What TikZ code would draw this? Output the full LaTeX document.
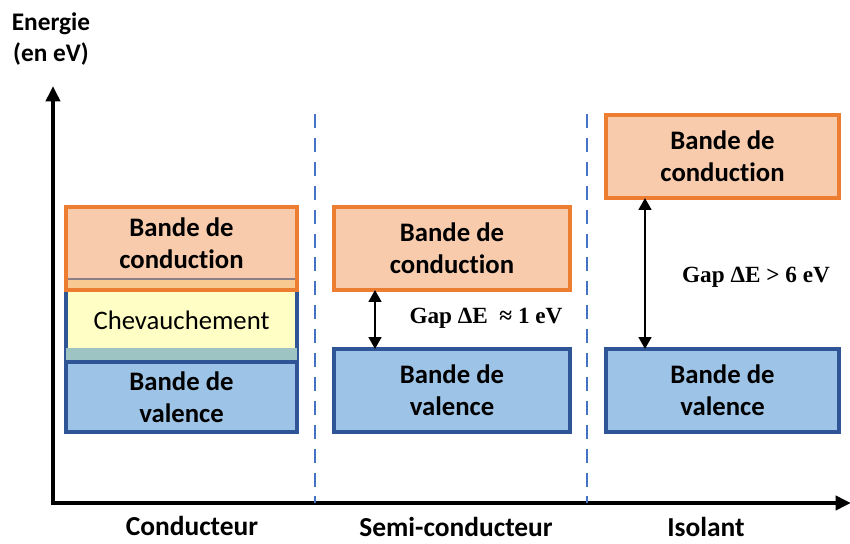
\documentclass[tikz,border=0pt]{standalone}
\usepackage{fontspec}
\setmainfont{Carlito}[Ligatures=NoCommon]
\newfontfamily\gapfont{Liberation Serif}
\usetikzlibrary{arrows.meta}

\definecolor{condfill}{HTML}{F8CBAD}
\definecolor{condline}{HTML}{ED7D31}
\definecolor{valfill}{HTML}{9DC3E6}
\definecolor{valline}{HTML}{2F5597}
\definecolor{chevfill}{HTML}{FFFFC5}
\definecolor{mixfill}{HTML}{9DC4C3}
\definecolor{stripfill}{HTML}{F8CA92}
\definecolor{stripline}{HTML}{8C7F86}
\definecolor{sepline}{HTML}{4472C4}

\tikzset{
	band/.style={inner sep=0pt, outer sep=0pt, line width=2.2pt, align=center,
		font=\fontsize{19}{22.5}\selectfont\bfseries},
	condbox/.style={band, fill=condfill, draw=condline},
	valbox/.style={band, fill=valfill, draw=valline},
	axis/.style={line width=2.7pt, -{Triangle[length=11pt,width=10pt]}},
	gaparrow/.style={line width=1.9pt, {Triangle[length=8.5pt,width=9pt]}-{Triangle[length=8.5pt,width=9pt]}},
	gaptext/.style={font=\gapfont\fontsize{16.5}{20}\selectfont\bfseries},
	sep/.style={sepline, line width=1.8pt, dash pattern=on 10pt off 7pt},
	title/.style={font=\fontsize{18}{22}\selectfont\bfseries, align=center},
	colname/.style={font=\fontsize{19.5}{22}\selectfont\bfseries}
}

\begin{document}
\begin{tikzpicture}[x=0.025cm, y=-0.025cm]
	\useasboundingbox (0,0) rectangle (850,544);

	%Axes
	\coordinate (O) at (53,503);
	\coordinate (ytip) at (53,86);
	\coordinate (xtip) at (851,503);
	\draw [axis] (O) -- (ytip);
	\draw [axis] ([xshift=-1.3pt]O) -- (xtip);
	\node [title] (energie) at (51,39) {Energie\\(en eV)};

	%Separations
	\draw [sep] (315,114) -- (315,503);
	\draw [sep] (587,114) -- (587,503);

	%Conducteur
	\node [band, fill=chevfill, draw=valline, minimum width=5.775cm, minimum height=2.1cm,
		font=\fontsize{19}{22}\selectfont] (chev) at (181.5,320) {Chevauchement};
	\fill [mixfill] (66,348) rectangle (297,361);
	\node [valbox, minimum width=5.775cm, minimum height=1.75cm] (val1) at (181.5,397) {Bande de\\valence};
	\node [condbox, minimum width=5.775cm, minimum height=2.075cm] (cond1) at (181.5,248.5) {};
	\fill [stripfill] (66,279) rectangle (297,290);
	\draw [stripline, line width=1.6pt] (66,279) -- (297,279);
	\draw [condline, line width=2.2pt] (cond1.south west) rectangle (cond1.north east);
	\node [band] (cond1txt) at (181.5,243) {Bande de\\conduction};

	%Semi-conducteur
	\node [condbox, minimum width=5.9cm, minimum height=2.075cm] (cond2) at (452,248.5) {Bande de\\conduction};
	\node [valbox, minimum width=5.9cm, minimum height=2.075cm] (val2) at (452,390.5) {Bande de\\valence};
	\coordinate (g2) at (375,0);
	\draw [gaparrow] (cond2.south -| g2) -- (val2.north -| g2);
	\node [gaptext] (gap2) at (486,318) {Gap ΔE \ ≈ 1 eV};

	%Isolant
	\node [condbox, minimum width=5.825cm, minimum height=2.075cm] (cond3) at (722.5,156.5) {Bande de\\conduction};
	\node [valbox, minimum width=5.825cm, minimum height=2.075cm] (val3) at (722.5,390.5) {Bande de\\valence};
	\coordinate (g3) at (645,0);
	\draw [gaparrow] (cond3.south -| g3) -- (val3.north -| g3);
	\node [gaptext] (gap3) at (756,277) {Gap ΔE > 6 eV};

	%Names
	\node [colname] (conducteur) at (192,526) {Conducteur};
	\node [colname] (semi) at (456,527) {Semi-conducteur};
	\node [colname] (isolant) at (706,527) {Isolant};
\end{tikzpicture}
\end{document}
